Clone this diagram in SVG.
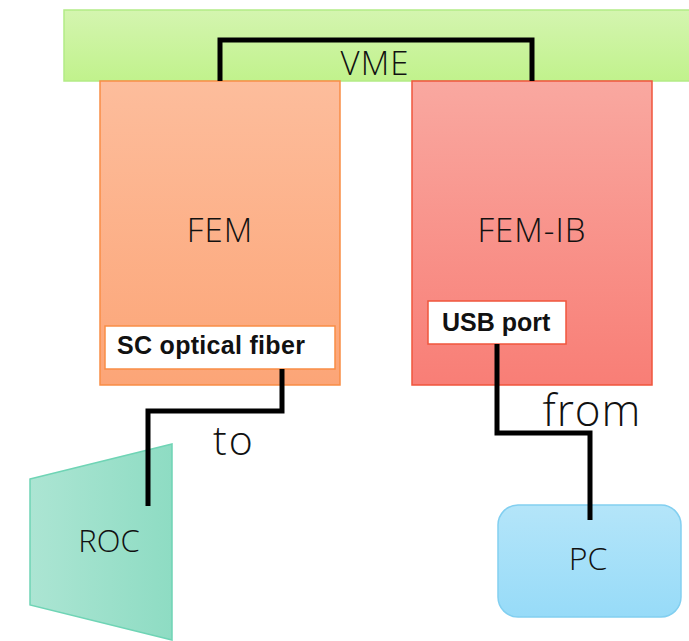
<svg xmlns="http://www.w3.org/2000/svg" width="689" height="641" viewBox="0 0 689 641">
<defs>
<linearGradient id="gVme" x1="0" y1="0" x2="0" y2="1"><stop offset="0" stop-color="#d4f5b0"/><stop offset="1" stop-color="#c1f28c"/></linearGradient>
<linearGradient id="gFem" x1="0" y1="0" x2="0" y2="1"><stop offset="0" stop-color="#fdbd9c"/><stop offset="1" stop-color="#fca577"/></linearGradient>
<linearGradient id="gIb" x1="0" y1="0" x2="0" y2="1"><stop offset="0" stop-color="#f9a8a0"/><stop offset="1" stop-color="#f87e76"/></linearGradient>
<linearGradient id="gRoc" x1="0" y1="0" x2="1" y2="0"><stop offset="0" stop-color="#ace5d3"/><stop offset="1" stop-color="#8edcc3"/></linearGradient>
<linearGradient id="gPc" x1="0" y1="0" x2="0" y2="1"><stop offset="0" stop-color="#b4e5f9"/><stop offset="1" stop-color="#97dbf8"/></linearGradient>
<style>
.lbl{font-family:"Open Sans","Liberation Sans",sans-serif;font-weight:300;fill:#111;text-anchor:middle}
.bold{font-family:"Liberation Sans",Arial,sans-serif;font-weight:bold;fill:#111}
.wire{fill:none;stroke:#000;stroke-width:5;stroke-linejoin:miter}
</style>
</defs>
<g id="vme">
<rect x="64" y="10" width="630" height="71" fill="url(#gVme)" stroke="#b3eb86" stroke-width="1.5"/>
<text class="lbl" x="375" y="75" font-size="33" letter-spacing="1">VME</text>
</g>
<g id="fem">
<rect x="100" y="81" width="240" height="304" fill="url(#gFem)" stroke="#f98d45" stroke-width="1.5"/>
<text class="lbl" x="220" y="242" font-size="33" letter-spacing="1">FEM</text>
</g>
<g id="sc-fiber">
<rect x="105" y="326" width="230" height="43" fill="#fff" stroke="#f98d45" stroke-width="1.5"/>
<text class="bold" x="117" y="354" font-size="25" letter-spacing="0.3">SC optical fiber</text>
</g>
<g id="fem-ib">
<rect x="412" y="81" width="240" height="304" fill="url(#gIb)" stroke="#f0553d" stroke-width="1.5"/>
<text class="lbl" x="532" y="242" font-size="33" letter-spacing="1">FEM-IB</text>
</g>
<g id="usb-port">
<rect x="428" y="301" width="138" height="43" fill="#fff" stroke="#f0553d" stroke-width="1.5"/>
<text class="bold" x="442" y="331" font-size="25">USB port</text>
</g>
<g id="roc">
<polygon points="30,479 172,444 172,640 30,605" fill="url(#gRoc)" stroke="#6fd4b5" stroke-width="1.5"/>
<text class="lbl" x="109" y="552" font-size="31">ROC</text>
</g>
<g id="pc">
<rect x="498" y="505" width="183" height="112" rx="20" ry="20" fill="url(#gPc)" stroke="#82cff0" stroke-width="1.5"/>
<text class="lbl" x="588" y="570" font-size="32">PC</text>
</g>
<g id="connectors">
<polyline class="wire" points="220,81 220,40 532,40 532,81"/>
<polyline class="wire" points="282,369 282,411 148,411 148,506"/>
<polyline class="wire" points="497,344 497,433 590,433 590,520"/>
<text class="lbl" x="234" y="455" font-size="41" letter-spacing="2">to</text>
<text class="lbl" x="592" y="426" font-size="44" letter-spacing="1">from</text>
</g>
</svg>
